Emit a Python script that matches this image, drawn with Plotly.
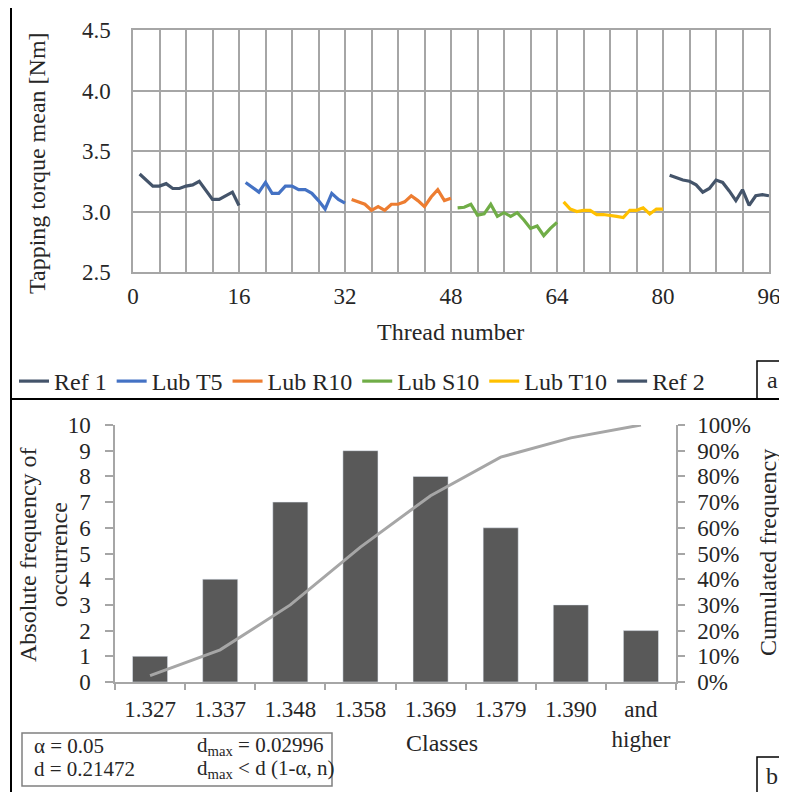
import plotly.graph_objects as go

# Reference canvas is 787x792; the page body adds an 8px margin, so the
# figure itself is 8px smaller on each axis and coordinates are shifted.
W, H = 787, 792
OFF = 8
FW, FH = W - OFF, H - OFF

# ---------------- data: panel a ----------------
ref1 = [3.31, 3.26, 3.21, 3.21, 3.23, 3.19, 3.19, 3.21, 3.22, 3.25, 3.18, 3.10, 3.10, 3.13, 3.16, 3.05]
lub_t5 = [3.24, 3.20, 3.16, 3.24, 3.15, 3.15, 3.21, 3.21, 3.18, 3.18, 3.15, 3.09, 3.02, 3.15, 3.10, 3.07]
lub_r10 = [3.10, 3.08, 3.06, 3.01, 3.04, 3.01, 3.06, 3.06, 3.08, 3.13, 3.09, 3.04, 3.12, 3.18, 3.09, 3.11]
lub_s10 = [3.03, 3.035, 3.06, 2.97, 2.98, 3.06, 2.96, 2.99, 2.96, 2.99, 2.93, 2.86, 2.88, 2.80, 2.86, 2.91]
lub_t10 = [3.08, 3.02, 3.00, 3.01, 3.01, 2.975, 2.975, 2.97, 2.96, 2.95, 3.01, 3.01, 3.03, 2.98, 3.02, 3.02]
ref2 = [3.30, 3.28, 3.26, 3.25, 3.22, 3.16, 3.19, 3.26, 3.24, 3.17, 3.09, 3.18, 3.05, 3.13, 3.14, 3.13]
series_names = ["Ref 1", "Lub T5", "Lub R10", "Lub S10", "Lub T10", "Ref 2"]
series_vals = [ref1, lub_t5, lub_r10, lub_s10, lub_t10, ref2]
series_colors = ["#44546A", "#4472C4", "#ED7D31", "#70AD47", "#FFC000", "#44546A"]
x_ticks_a = [0, 16, 32, 48, 64, 80, 96]

# ---------------- data: panel b ----------------
classes = ["1.327", "1.337", "1.348", "1.358", "1.369", "1.379", "1.390", "and<br>higher"]
abs_freq = [1, 4, 7, 9, 8, 6, 3, 2]
cum_freq = [0.025, 0.125, 0.30, 0.525, 0.725, 0.875, 0.95, 1.00]

FONT = "Liberation Serif"


def px(x):
    return (x - OFF) / FW


def py(y):
    return 1 - (y - OFF) / FH


fig = go.Figure()

start = 1
for name, vals, col in zip(series_names, series_vals, series_colors):
    xs = list(range(start, start + len(vals)))
    fig.add_trace(go.Scatter(x=xs, y=vals, mode="lines", name=name,
                             line=dict(color=col, width=3.2),
                             xaxis="x", yaxis="y"))
    start += len(vals)

fig.add_trace(go.Bar(x=classes, y=abs_freq, marker=dict(color="#595959"), width=0.5,
                     showlegend=False, xaxis="x2", yaxis="y2"))
fig.add_trace(go.Scatter(x=classes, y=cum_freq, mode="lines", showlegend=False,
                         line=dict(color="#A6A6A6", width=3), xaxis="x2", yaxis="y3"))

grid = "#A6A6A6"
axis_font = dict(family=FONT, size=23, color="#262626")

fig.update_layout(
    width=FW, height=FH,
    margin=dict(l=0, r=0, t=0, b=0, autoexpand=False),
    paper_bgcolor="white", plot_bgcolor="white",
    font=dict(family=FONT, size=23, color="#262626"),
    xaxis=dict(domain=[px(133), px(769)], range=[0, 96], tickvals=x_ticks_a,
               showgrid=True, gridcolor=grid, gridwidth=1.5,
               minor=dict(dtick=4, showgrid=True, gridcolor=grid, gridwidth=1.5),
               showline=True, linecolor=grid, linewidth=1.5, mirror=True,
               ticks="", ticklabelstandoff=3, tickfont=axis_font, zeroline=False,
               automargin=False),
    yaxis=dict(domain=[py(272), py(30)], range=[2.5, 4.5], dtick=0.5, tickformat=".1f",
               showgrid=True, gridcolor=grid, gridwidth=1.5,
               showline=True, linecolor=grid, linewidth=1.5, mirror=True,
               ticks="", ticklabelstandoff=16, tickfont=axis_font, zeroline=False,
               automargin=False),
    xaxis2=dict(domain=[px(115), px(676)], anchor="y2", type="category",
                showline=True, linecolor=grid, linewidth=1.5,
                ticks="outside", tickson="boundaries", ticklen=6, tickcolor=grid,
                tickwidth=1.5, ticklabelstandoff=6, tickfont=axis_font, showgrid=False,
                automargin=False),
    yaxis2=dict(domain=[py(682), py(425)], anchor="x2", range=[0, 10], dtick=1,
                showline=True, linecolor=grid, linewidth=1.5,
                ticks="outside", ticklen=8, tickcolor=grid, tickwidth=1.5,
                ticklabelstandoff=10, tickfont=axis_font, showgrid=False, zeroline=False,
                automargin=False),
    yaxis3=dict(overlaying="y2", side="right", anchor="x2", range=[0, 1], dtick=0.1,
                tickformat=".0%", showline=True, linecolor=grid, linewidth=1.5,
                ticks="outside", ticklen=7, tickcolor=grid, tickwidth=1.5,
                ticklabelstandoff=8, tickfont=axis_font, showgrid=False, zeroline=False,
                automargin=False),
    legend=dict(orientation="h", x=px(14), y=py(359), xanchor="left", yanchor="top",
                font=dict(family=FONT, size=24, color="#262626"),
                itemwidth=30, tracegroupgap=0, bgcolor="rgba(0,0,0,0)"),
    showlegend=True,
)

title_font = dict(family=FONT, size=24, color="#262626")
anns = [
    dict(x=px(37), y=py(163), text="Tapping torque mean [Nm]", textangle=-90),
    dict(x=px(450), y=py(332), text="Thread number"),
    dict(x=px(43), y=py(555), text="Absolute frequency of<br>occurrence", textangle=-90),
    dict(x=px(768), y=py(553), text="Cumulated frequency", textangle=-90),
    dict(x=px(442), y=py(743), text="Classes"),
    dict(x=px(772), y=py(380), text="a"),
    dict(x=px(772), y=py(776), text="b"),
]
for a in anns:
    fig.add_annotation(xref="paper", yref="paper", showarrow=False, font=title_font,
                       xanchor="center", yanchor="middle", **a)

box_font = dict(family=FONT, size=21, color="#262626")
box_txt = [
    (32, 746, "α = 0.05"),
    (32, 769, "d = 0.21472"),
    (195, 746, "d<sub>max</sub> = 0.02996"),
    (195, 769, "d<sub>max</sub> &lt; d (1-α, n)"),
]
for x0, y0, t in box_txt:
    fig.add_annotation(xref="paper", yref="paper", x=px(x0), y=py(y0), text=t,
                       xanchor="left", yanchor="middle", showarrow=False, font=box_font)

shapes = [
    dict(type="rect", x0=px(11), y0=py(7), x1=px(800), y1=py(800),
         line=dict(color="black", width=2)),
    dict(type="line", x0=px(11), y0=py(399), x1=px(800), y1=py(399),
         line=dict(color="black", width=2)),
    dict(type="rect", x0=px(757), y0=py(361), x1=px(800), y1=py(399),
         line=dict(color="black", width=1.5)),
    dict(type="rect", x0=px(757), y0=py(757), x1=px(800), y1=py(800),
         line=dict(color="black", width=1.5)),
    dict(type="rect", x0=px(22), y0=py(733), x1=px(332), y1=py(786),
         line=dict(color="#808080", width=1.5)),
]
for s in shapes:
    fig.add_shape(xref="paper", yref="paper", **s)

fig.write_html("out.html")
